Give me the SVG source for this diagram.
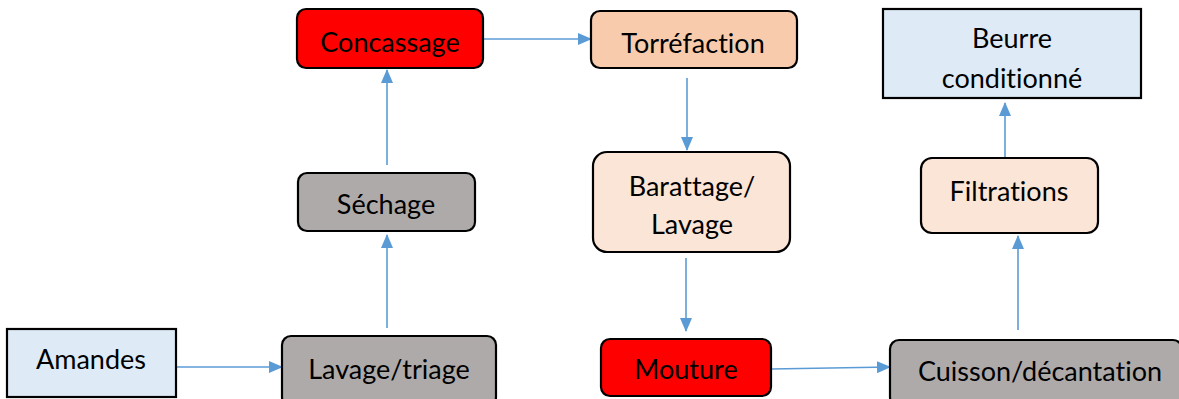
<svg xmlns="http://www.w3.org/2000/svg" width="1179" height="399" viewBox="0 0 1179 399">
<style>
.b{stroke:#000;stroke-width:2.2}
.t{font-family:Lato,"Liberation Sans",sans-serif;font-size:27px;fill:#000;text-anchor:middle;font-variant-ligatures:none;font-feature-settings:"liga" 0}
.c{stroke:#5B9BD5;stroke-width:1.6;fill:none;marker-end:url(#ah)}
</style>
<defs>
<marker id="ah" markerWidth="14" markerHeight="12" refX="13" refY="6" orient="auto" markerUnits="userSpaceOnUse">
<path d="M0,0 L14,6 L0,12 Z" fill="#5B9BD5"/>
</marker>
</defs>
<rect width="1179" height="399" fill="#fff"/>
<g id="connectors">
<path class="c" d="M176,367 H282"/>
<path class="c" d="M387,328 V235"/>
<path class="c" d="M387,165 V70"/>
<path class="c" d="M483,39 H591"/>
<path class="c" d="M687,78 V150"/>
<path class="c" d="M686,258 V331"/>
<path class="c" d="M771,369 L890,367"/>
<path class="c" d="M1018,330 V236"/>
<path class="c" d="M1005,158 V103"/>
</g>
<g id="amandes"><rect class="b" x="7" y="329" width="169" height="68" fill="#DEEBF7"/><text class="t" x="91" y="369">Amandes</text></g>
<g id="lavage-triage"><rect class="b" x="282" y="336" width="214" height="70" rx="9" fill="#AEAAAA"/><text class="t" x="389" y="379">Lavage/triage</text></g>
<g id="sechage"><rect class="b" x="298" y="173" width="177" height="58" rx="9" fill="#AEAAAA"/><text class="t" x="386" y="214">Séchage</text></g>
<g id="concassage"><rect class="b" x="297" y="9" width="186" height="59" rx="9" fill="#FF0000"/><text class="t" x="390" y="52">Concassage</text></g>
<g id="torrefaction"><rect class="b" x="591" y="11" width="206" height="57" rx="9" fill="#F8CBAD"/><text class="t" x="693" y="53">Torréfaction</text></g>
<g id="barattage"><rect class="b" x="593" y="152" width="197" height="100" rx="14" fill="#FBE5D6"/><text class="t" x="692" y="196">Barattage/</text><text class="t" x="692" y="234">Lavage</text></g>
<g id="mouture"><rect class="b" x="601" y="339" width="170" height="57" rx="9" fill="#FF0000"/><text class="t" x="686" y="379">Mouture</text></g>
<g id="cuisson"><rect class="b" x="890" y="340" width="292" height="66" rx="9" fill="#AEAAAA"/><text class="t" x="1040" y="381">Cuisson/décantation</text></g>
<g id="filtrations"><rect class="b" x="921" y="158" width="177" height="75" rx="11" fill="#FBE5D6"/><text class="t" x="1009" y="201">Filtrations</text></g>
<g id="beurre"><rect class="b" x="883" y="9" width="258" height="89" fill="#DEEBF7"/><text class="t" x="1012" y="48">Beurre</text><text class="t" x="1012" y="88">conditionné</text></g>
</svg>
